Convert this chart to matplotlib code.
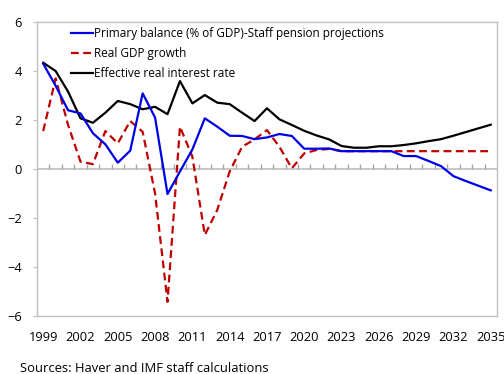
import matplotlib
matplotlib.use('Agg')
import matplotlib.pyplot as plt
import numpy as np

plt.rcParams['font.family'] = ['Open Sans', 'DejaVu Sans']

years = list(range(1999, 2036))

primary_balance = [4.3, 3.4, 2.4, 2.27, 1.46, 1.01, 0.26, 0.75, 3.09, 2.1, -1.02,
                   -0.1, 0.8, 2.07, 1.73, 1.36, 1.35, 1.22, 1.29, 1.43, 1.35,
                   0.83, 0.83, 0.84, 0.73, 0.73, 0.73, 0.73, 0.73, 0.53, 0.53,
                   0.33, 0.12, -0.29, -0.49, -0.68, -0.87]
gdp_growth = [1.55, 3.7, 1.8, 0.3, 0.2, 1.55, 1.05, 1.96, 1.52, -1.0, -5.42,
              1.73, 0.5, -2.69, -1.67, -0.1, 0.91, 1.21, 1.59, 0.91, 0.03,
              0.64, 0.78, 0.82, 0.73, 0.73, 0.73, 0.73, 0.73, 0.73, 0.73,
              0.73, 0.73, 0.73, 0.73, 0.73, 0.73]
interest_rate = [4.34, 4.0, 3.16, 2.07, 1.89, 2.3, 2.78, 2.65, 2.44, 2.54, 2.24,
                 3.59, 2.68, 3.02, 2.71, 2.65, 2.3, 1.96, 2.48, 2.03, 1.8,
                 1.56, 1.37, 1.21, 0.94, 0.87, 0.87, 0.93, 0.93, 0.98, 1.05,
                 1.14, 1.22, 1.36, 1.51, 1.66, 1.81]

labels = ['Primary balance (% of GDP)-Staff pension projections',
          'Real GDP growth', 'Effective real interest rate']
tick_years = years[::3]

fig = plt.figure(figsize=(5.04, 3.74), dpi=100)
ax = fig.add_axes([0.0734, 0.155, 0.9126, 0.786])

grey = '#BFBFBF'
ax.axhline(0, color=grey, lw=1.2, zorder=1)
edges = np.arange(years[0] + 0.5, years[-1], 1.0)
ax.vlines(edges, 0, 0.2, color='#A6A6A6', lw=1, zorder=1)

ax.plot(years, primary_balance, color='#0000E6', lw=1.6, label=labels[0], zorder=3)
ax.plot(years, gdp_growth, color='#C00000', lw=1.6, ls=(0, (3.5, 2)), label=labels[1], zorder=2)
ax.plot(years, interest_rate, color='black', lw=1.6, label=labels[2], zorder=2)

ax.set_xlim(years[0] - 0.5, years[-1] + 0.5)
ax.set_ylim(-6, 6)
ax.set_yticks([-6, -4, -2, 0, 2, 4, 6])
ax.set_xticks(tick_years)
ax.set_xticklabels([str(y) for y in tick_years])
ax.tick_params(axis='x', length=0, pad=11, labelsize=9.3)
ax.tick_params(axis='y', length=3, color=grey, pad=8, labelsize=9.3)
for s in ax.spines.values():
    s.set_color(grey)
    s.set_linewidth(1)

ax.legend(loc='upper left', bbox_to_anchor=(0.063, 0.998), frameon=False, fontsize=8.5,
          handlelength=1.9, handletextpad=0.1, labelspacing=0.58, borderaxespad=0)

fig.text(0.04, 0.005, 'Sources: Haver and IMF staff calculations', fontsize=9.4)

fig.savefig('out.png', dpi=100)
